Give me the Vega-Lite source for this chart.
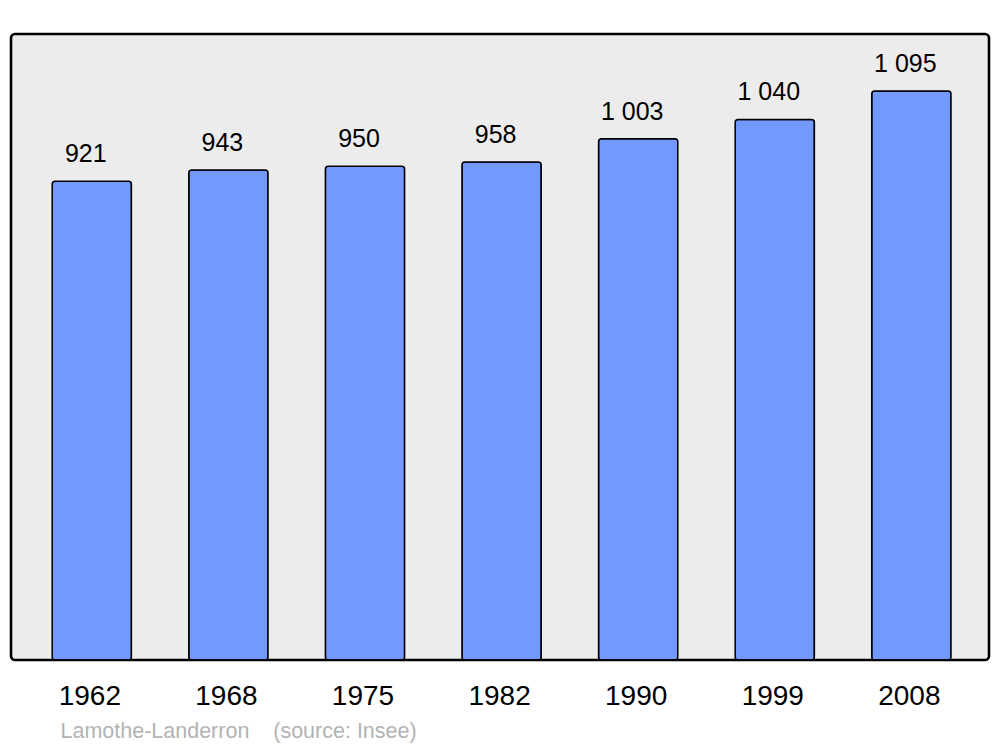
{
  "$schema": "https://vega.github.io/schema/vega-lite/v6.json",
  "width": 978,
  "height": 626,
  "autosize": {"type": "none"},
  "padding": {"left": 11, "top": 34, "right": 11, "bottom": 87},
  "background": "white",
  "config": {
    "view": {"stroke": "#000000", "strokeWidth": 2.6, "cornerRadius": 4, "fill": "#ececec"},
    "font": "Liberation Sans"
  },
  "data": {
    "values": [
      {"year": "1962", "population": 921, "label": "921"},
      {"year": "1968", "population": 943, "label": "943"},
      {"year": "1975", "population": 950, "label": "950"},
      {"year": "1982", "population": 958, "label": "958"},
      {"year": "1990", "population": 1003, "label": "1 003"},
      {"year": "1999", "population": 1040, "label": "1 040"},
      {"year": "2008", "population": 1095, "label": "1 095"}
    ]
  },
  "encoding": {
    "x": {
      "field": "year",
      "type": "nominal",
      "sort": null,
      "scale": {"paddingInner": 0.42, "paddingOuter": 0.29, "align": 0.52},
      "axis": {
        "title": "Lamothe-Landerron\u00a0\u00a0\u00a0 (source: Insee)",
        "titleFont": "Liberation Sans",
        "titleFontSize": 21.5,
        "titleFontWeight": "normal",
        "titleColor": "#b3b3b3",
        "titleAnchor": "start",
        "titleAlign": "left",
        "titleBaseline": "alphabetic",
        "titleX": 49,
        "titleY": 77,
        "labelAngle": 0,
        "labelFont": "Liberation Sans",
        "labelFontSize": 28,
        "labelColor": "#000000",
        "labelBaseline": "alphabetic",
        "labelPadding": 44,
        "labelOffset": -2,
        "ticks": false,
        "tickSize": 0,
        "domain": false,
        "grid": false
      }
    },
    "y": {
      "field": "population",
      "type": "quantitative",
      "scale": {"domain": [0, 1204.5], "nice": false, "zero": true},
      "axis": null
    }
  },
  "layer": [
    {
      "mark": {"type": "bar", "fill": "#7399ff", "stroke": "#000000", "strokeWidth": 1.5, "cornerRadius": 3}
    },
    {
      "mark": {"type": "text", "fontSize": 25, "font": "Liberation Sans", "color": "#000000", "baseline": "alphabetic", "align": "center", "dy": -19, "dx": -6},
      "encoding": {"text": {"field": "label"}}
    }
  ]
}
